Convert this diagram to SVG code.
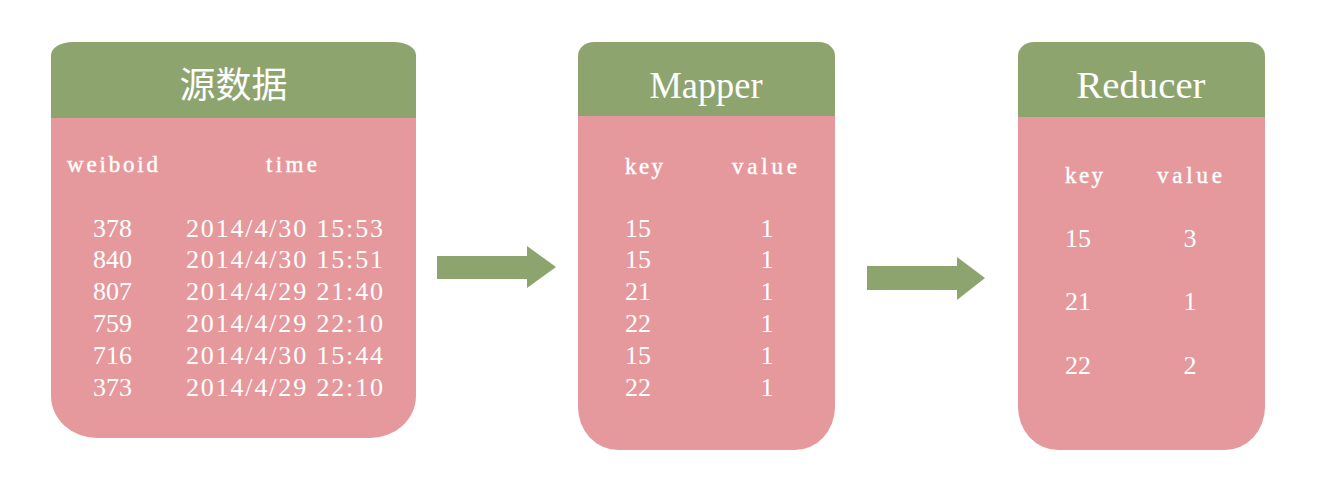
<svg xmlns="http://www.w3.org/2000/svg" width="1337" height="492" viewBox="0 0 1337 492">
<style>
.hd{fill:#8EA46F}
.bd{fill:#E6999D}
.arrow{fill:#8EA46F}
.title{fill:#FFFFFF;font-family:"Liberation Serif",serif;font-size:38px;text-anchor:middle}
.cjk{fill:#FFFFFF;font-family:"Noto Sans CJK SC",sans-serif;font-size:36px;text-anchor:middle}
.col{fill:#FFFFFF;font-family:"Liberation Serif",serif;font-size:23px;stroke:#FFFFFF;stroke-width:0.4}
.num{fill:#FFFFFF;font-family:"Liberation Serif",serif;font-size:26px}
.mid{text-anchor:middle}
</style>
<rect width="1337" height="492" fill="#FFFFFF"/>
<g id="source">
<path class="bd" d="M51,117 L416,117 L416,396 A46,42 0 0 1 370,438 L97,438 A46,42 0 0 1 51,396 Z"/>
<path class="hd" d="M51,118 L51,55 A22,13 0 0 1 73,42 L394,42 A22,13 0 0 1 416,55 L416,118 Z"/>
<text class="cjk" x="233.5" y="98">源数据</text>
<text class="col" x="67" y="172" textLength="91" lengthAdjust="spacing">weiboid</text>
<text class="col" x="266" y="172" textLength="51" lengthAdjust="spacing">time</text>
<g class="num">
<text x="93" y="237">378</text><text x="186" y="237" textLength="197">2014/4/30 15:53</text>
<text x="93" y="268">840</text><text x="186" y="268" textLength="197">2014/4/30 15:51</text>
<text x="93" y="300">807</text><text x="186" y="300" textLength="197">2014/4/29 21:40</text>
<text x="93" y="332">759</text><text x="186" y="332" textLength="197">2014/4/29 22:10</text>
<text x="93" y="364">716</text><text x="186" y="364" textLength="197">2014/4/30 15:44</text>
<text x="93" y="396">373</text><text x="186" y="396" textLength="197">2014/4/29 22:10</text>
</g>
</g>
<g id="mapper">
<path class="bd" d="M578,115 L835,115 L835,407 A40,43 0 0 1 795,450 L618,450 A40,43 0 0 1 578,407 Z"/>
<path class="hd" d="M578,116 L578,56 A16,14 0 0 1 594,42 L819,42 A16,14 0 0 1 835,56 L835,116 Z"/>
<text class="title" x="706" y="98" textLength="113" lengthAdjust="spacingAndGlyphs">Mapper</text>
<text class="col" x="625" y="174" textLength="38" lengthAdjust="spacing">key</text>
<text class="col" x="732" y="174" textLength="65" lengthAdjust="spacing">value</text>
<g class="num">
<text x="625" y="237">15</text><text class="mid" x="767" y="237">1</text>
<text x="625" y="268">15</text><text class="mid" x="767" y="268">1</text>
<text x="625" y="300">21</text><text class="mid" x="767" y="300">1</text>
<text x="625" y="332">22</text><text class="mid" x="767" y="332">1</text>
<text x="625" y="364">15</text><text class="mid" x="767" y="364">1</text>
<text x="625" y="396">22</text><text class="mid" x="767" y="396">1</text>
</g>
</g>
<g id="reducer">
<path class="bd" d="M1018,116 L1265,116 L1265,407 A40,43 0 0 1 1225,450 L1058,450 A40,43 0 0 1 1018,407 Z"/>
<path class="hd" d="M1018,117 L1018,56 A16,14 0 0 1 1034,42 L1249,42 A16,14 0 0 1 1265,56 L1265,117 Z"/>
<text class="title" x="1141" y="98" textLength="129" lengthAdjust="spacingAndGlyphs">Reducer</text>
<text class="col" x="1065" y="183" textLength="38" lengthAdjust="spacing">key</text>
<text class="col" x="1157" y="183" textLength="65" lengthAdjust="spacing">value</text>
<g class="num">
<text x="1065" y="247">15</text><text class="mid" x="1190" y="247">3</text>
<text x="1065" y="310">21</text><text class="mid" x="1190" y="310">1</text>
<text x="1065" y="374">22</text><text class="mid" x="1190" y="374">2</text>
</g>
</g>
<g id="connectors">
<polygon class="arrow" points="437,256 527,256 527,246 556,267 527,288 527,279 437,279"/>
<polygon class="arrow" points="867,266 957,266 957,257 985,278 957,300 957,290 867,290"/>
</g>
</svg>
